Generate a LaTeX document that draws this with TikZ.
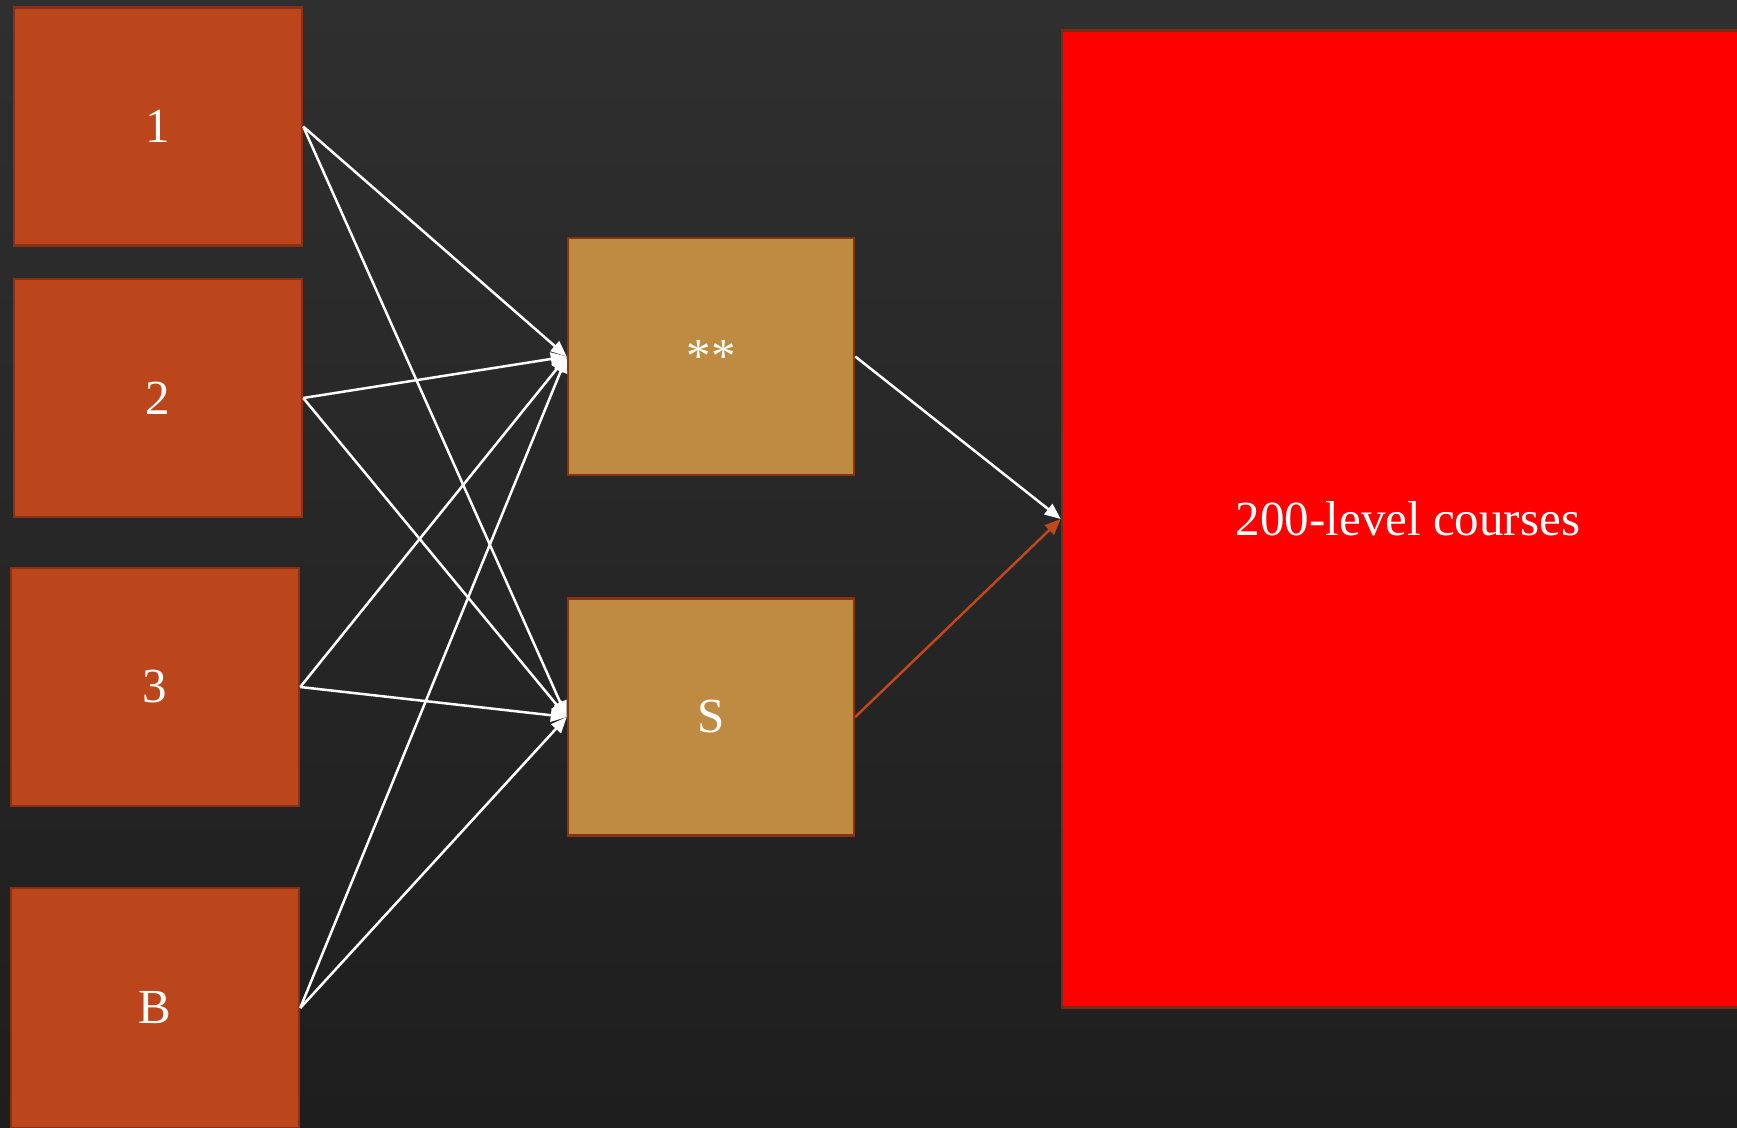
\documentclass[tikz,border=0pt]{standalone}
\usepackage{fontspec}
\setmainfont{Liberation Serif}
\usetikzlibrary{arrows.meta}
\definecolor{bgtop}{RGB}{47,47,48}
\definecolor{bgbot}{RGB}{30,30,31}
\definecolor{rust}{RGB}{188,70,28}
\definecolor{rustline}{RGB}{140,48,20}
\definecolor{tan}{RGB}{191,139,66}
\definecolor{tanline}{RGB}{140,50,20}
\definecolor{redfill}{RGB}{255,0,0}
\definecolor{redline}{RGB}{125,42,18}
\definecolor{arrowrust}{RGB}{190,72,28}
\tikzset{
  lvl/.style={draw=rustline, fill=rust, line width=2.5pt, minimum width=288pt, minimum height=238pt, inner sep=0pt, text=white, font=\fontsize{49}{55}\selectfont},
  mid/.style={draw=tanline, fill=tan, line width=2.5pt, minimum width=286pt, minimum height=237pt, inner sep=0pt, text=white, font=\fontsize{49}{55}\selectfont},
  big/.style={draw=redline, fill=redfill, line width=2.5pt, minimum width=692pt, minimum height=977pt, inner sep=0pt, text=white, font=\fontsize{49}{55}\selectfont},
  link/.style={draw=white, line width=2.5pt, -{Triangle[length=16pt,width=13pt]}},
  rlink/.style={draw=arrowrust, line width=2.5pt, -{Triangle[length=16pt,width=13pt]}}
}
\begin{document}
\begin{tikzpicture}[x=1pt,y=-1pt]
\useasboundingbox (0,0) rectangle (1737,1127);
\clip (0,0) rectangle (1737,1127);
\shade[top color=bgtop, bottom color=bgbot] (0,0) rectangle (1737,1127);
\node[lvl] (one) at (158,126.5) {1};
\node[lvl] (two) at (158,398) {2};
\node[lvl] (three) at (155,687) {3};
\node[lvl, minimum height=240pt] (bee) at (155,1008) {B};
\node[mid] (star) at (711,356.5) {**};
\node[mid] (ess) at (711,717) {S};
\node[big] (lvl2) at (1408,519) {200-level courses};
\foreach \s in {one,two,three,bee}{
  \draw[link] (\s.east) -- (star.west);
  \draw[link] (\s.east) -- (ess.west);
}
\draw[link] (star.east) -- (lvl2.west);
\draw[rlink] (ess.east) -- (lvl2.west);
\end{tikzpicture}
\end{document}
